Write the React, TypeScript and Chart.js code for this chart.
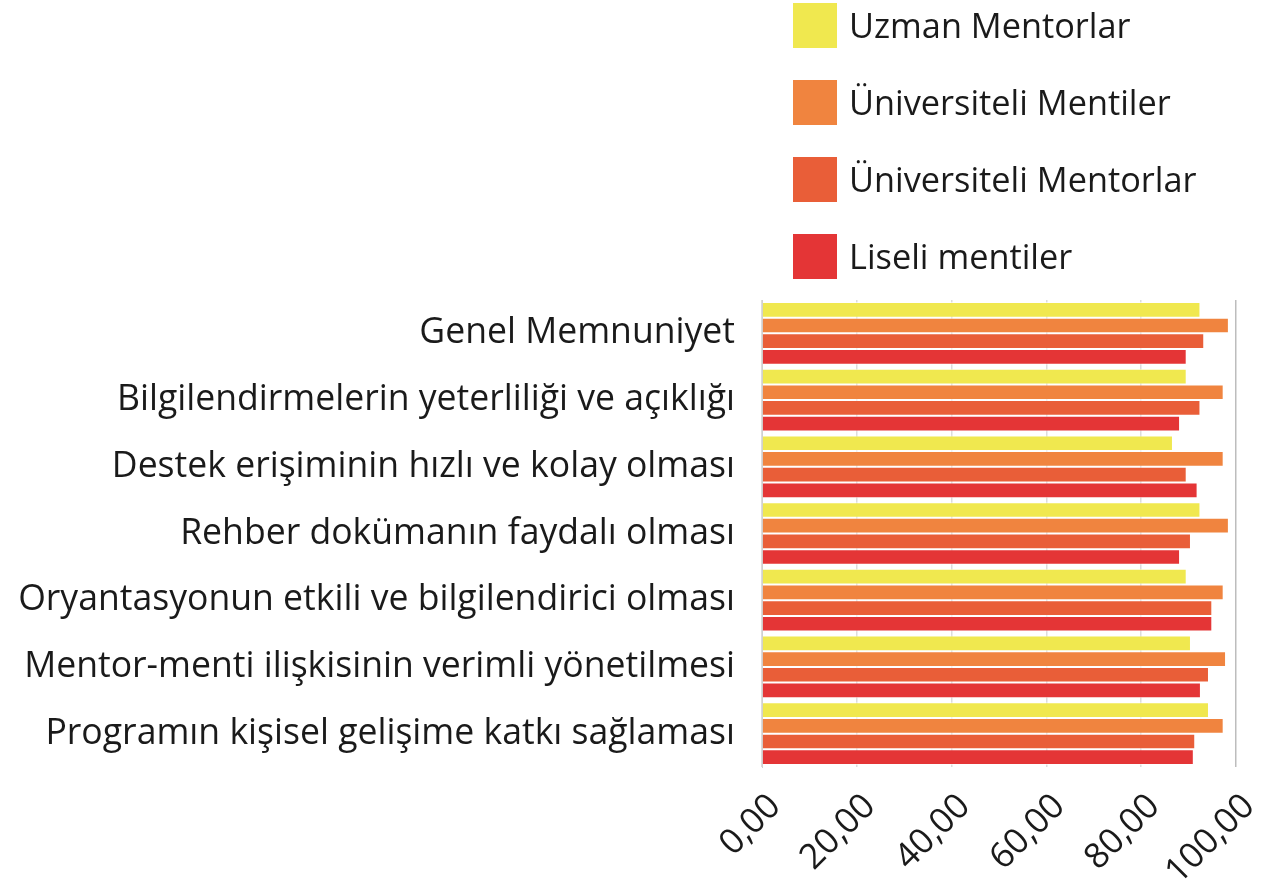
import React, { useEffect, useRef } from "react";
import { Chart, registerables } from "chart.js";

Chart.register(...registerables);

const categories = [
  "Genel Memnuniyet",
  "Bilgilendirmelerin yeterliliği ve açıklığı",
  "Destek erişiminin hızlı ve kolay olması",
  "Rehber dokümanın faydalı olması",
  "Oryantasyonun etkili ve bilgilendirici olması",
  "Mentor-menti ilişkisinin verimli yönetilmesi",
  "Programın kişisel gelişime katkı sağlaması",
];

const seriesNames = [
  "Uzman Mentorlar",
  "Üniversiteli Mentiler",
  "Üniversiteli Mentorlar",
  "Liseli mentiler",
];

const uzmanMentorlar = [92.5, 89.6, 86.7, 92.5, 89.6, 90.5, 94.3];
const universiteliMentiler = [98.5, 97.4, 97.4, 98.5, 97.4, 97.9, 97.4];
const universiteliMentorlar = [93.3, 92.5, 89.6, 90.5, 95.0, 94.3, 91.4];
const liseliMentiler = [89.6, 88.2, 91.9, 88.2, 95.0, 92.6, 91.1];

const seriesColors = ["#F0E84F", "#F0843F", "#E95E38", "#E43536"];

const FONT_FAMILY = '"Open Sans", "Noto Sans", sans-serif';

const legendPlugin = {
  id: "customLegend",
  afterDraw(chart: any) {
    const ctx = chart.ctx;
    ctx.save();
    chart.data.datasets.forEach((ds: any, i: number) => {
      const y = 3 + i * 77;
      ctx.fillStyle = ds.backgroundColor;
      ctx.fillRect(793, y, 44, 45);
      ctx.fillStyle = "#1a1a1a";
      ctx.font = `34.3px ${FONT_FAMILY}`;
      ctx.textBaseline = "middle";
      ctx.textAlign = "left";
      ctx.fillText(ds.label, 849, y + 25);
    });
    ctx.restore();
  },
};

export default function App() {
  const canvasRef = useRef<HTMLCanvasElement | null>(null);

  useEffect(() => {
    if (!canvasRef.current) return;
    const values = [uzmanMentorlar, universiteliMentiler, universiteliMentorlar, liseliMentiler];
    const chart = new Chart(canvasRef.current, {
      type: "bar",
      data: {
        labels: categories,
        datasets: seriesNames.map((name, i) => ({
          label: name,
          data: values[i],
          backgroundColor: seriesColors[i],
          borderColor: "rgba(255,255,255,0.6)",
          borderWidth: 1,
          borderSkipped: "start",
          categoryPercentage: 0.94,
          barPercentage: 1,
        })),
      },
      options: {
        indexAxis: "y",
        animation: false,
        responsive: true,
        maintainAspectRatio: false,
        layout: { padding: { top: 300, right: 50, left: 0, bottom: 0 } },
        plugins: {
          legend: { display: false },
          tooltip: { enabled: false },
          title: { display: false },
        },
        scales: {
          x: {
            min: 0,
            max: 100,
            ticks: {
              stepSize: 20,
              maxRotation: 45,
              minRotation: 45,
              padding: 19,
              labelOffset: 13,
              color: "#1a1a1a",
              font: { family: FONT_FAMILY, size: 35 },
              callback: (v: any) => Number(v).toFixed(2).replace(".", ","),
            },
            grid: {
              drawTicks: false,
              color: (c: any) => (c.index === 5 ? "#bdbdbd" : "#dcdcdc"),
              lineWidth: 1.5,
            },
            border: { display: false },
            afterFit: (scale: any) => {
              scale.height = 122;
            },
          },
          y: {
            ticks: {
              padding: 27,
              color: "#1a1a1a",
              font: { family: FONT_FAMILY, size: 35.6 },
            },
            grid: { display: false, drawTicks: false },
            border: { display: true, color: "#d0d0d0" },
            afterFit: (scale: any) => {
              scale.width = 762;
            },
          },
        },
      },
      plugins: [legendPlugin],
    });
    return () => chart.destroy();
  }, []);

  return (
    <div style={{ position: "absolute", left: 0, top: 0, width: 1286, height: 889, background: "#fff" }}>
      <canvas ref={canvasRef} />
    </div>
  );
}
